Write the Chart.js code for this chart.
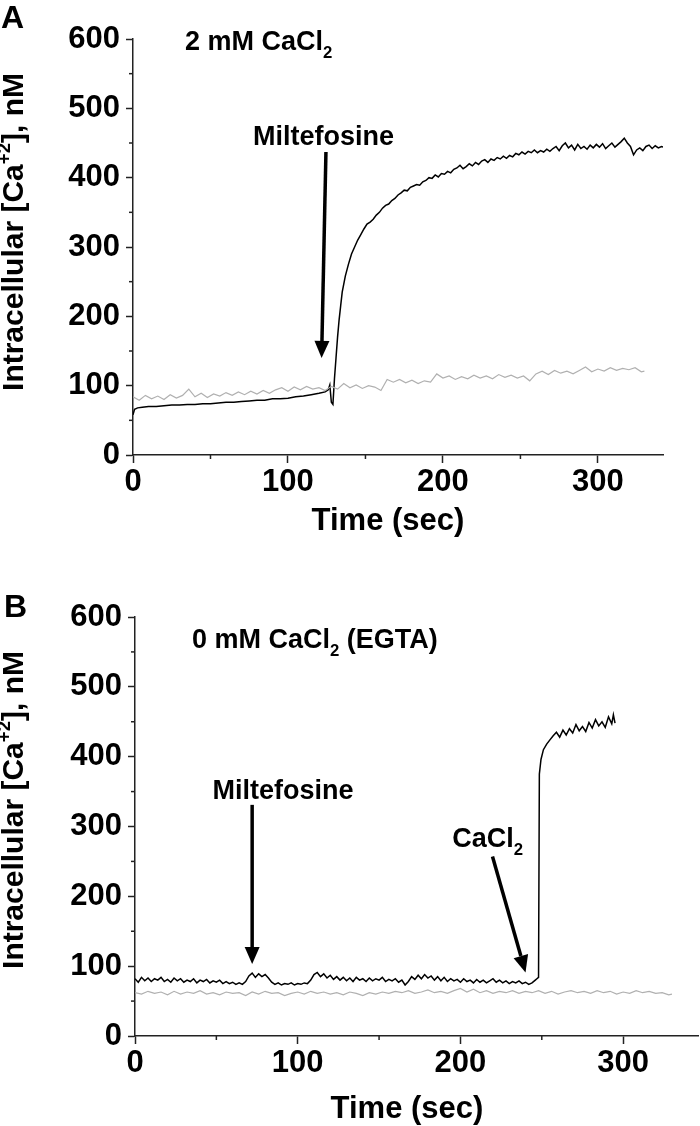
<!DOCTYPE html>
<html>
<head>
<meta charset="utf-8">
<script src="https://cdn.jsdelivr.net/npm/chart.js@4.4.0/dist/chart.umd.min.js"></script>
<style>
  body { margin: 0; background: #fff; }
  canvas { display: block; }
</style>
</head>
<body>
<canvas id="panelA" width="700" height="560"></canvas>
<canvas id="panelB" width="700" height="566"></canvas>
<script>
// ---- Panel A : 2 mM CaCl2 ----
// black trace (miltefosine added at ~127 s)
const timeA_mil = [0, 1, 3, 6, 10, 15, 20, 25, 30, 35, 40, 45, 50, 55, 60, 65, 70, 75, 80, 85, 90, 95, 100, 105, 110, 115, 120, 124, 126, 127, 128, 129,
  130, 131, 132, 133, 134, 135, 137, 139, 141, 143, 145, 147, 149, 151, 153, 155, 157, 159, 161, 163, 165, 167, 169, 171, 173, 175, 177, 179,
  181, 183, 185, 187, 189, 191, 193, 195, 197, 199, 201, 203, 205, 207, 209, 211, 213, 215, 217, 219, 221, 223, 225, 227, 229, 231, 233, 235,
  237, 239, 241, 243, 245, 247, 249, 251, 253, 255, 257, 259, 261, 263, 265, 267, 269, 271, 273, 275, 277, 279, 281, 283, 285, 287, 289, 291,
  293, 295, 297, 299, 301, 303, 305, 307, 309, 311, 313, 315, 317, 319, 321, 323, 325, 327, 329, 331, 333, 335, 337, 339, 341, 342];
const caA_mil = [58, 66, 68, 69, 70, 70, 71, 72, 72, 73, 73, 74, 74, 75, 76, 76, 77, 78, 79, 79, 81, 81, 82, 84, 85, 87, 89, 91, 94, 101, 76, 73,
  110, 140, 170, 195, 215, 235, 258, 275, 290, 300, 310, 318, 326, 333, 336, 340, 346, 350, 356, 360, 362, 367, 370, 375, 378, 382, 381, 386,
  388, 390, 389, 394, 396, 400, 399, 404, 401, 406, 405, 409, 407, 412, 414, 418, 413, 416, 420, 417, 422, 419, 424, 426, 422, 427, 425, 429,
  427, 431, 428, 432, 430, 435, 433, 437, 434, 438, 436, 440, 436, 439, 437, 441, 438, 442, 445, 439, 446, 450, 443, 447, 440, 448, 442, 445,
  441, 447, 443, 448, 444, 449, 442, 446, 450, 444, 448, 452, 457, 450, 445, 433, 440, 443, 439, 445, 447, 442, 446, 443, 445, 444];
// grey trace (control)
const timeA_ctl = [0, 4, 8, 12, 16, 20, 24, 28, 32, 36, 40, 44, 48, 52, 56, 60, 64, 68, 72, 76, 80, 84, 88, 92, 96, 100, 104, 108, 112, 116,
  120, 124, 128, 132, 136, 140, 144, 148, 152, 156, 160, 164, 168, 172, 176, 180, 184, 188, 192, 196, 200, 204, 208, 212, 216, 220, 224, 228,
  232, 236, 240, 244, 248, 252, 256, 260, 264, 268, 272, 276, 280, 284, 288, 292, 296, 300, 304, 308, 312, 316, 320, 324, 328, 330];
const caA_ctl = [84, 79, 86, 81, 85, 80, 87, 82, 86, 95, 84, 89, 83, 88, 85, 90, 86, 91, 87, 92, 88, 93, 89, 94, 97, 92, 98, 94, 99, 95,
  97, 93, 99, 95, 103, 97, 101, 96, 100, 98, 93, 109, 105, 109, 104, 108, 103, 107, 105, 117, 111, 114, 109, 113, 110, 115, 111, 114,
  110, 116, 112, 115, 111, 114, 107, 117, 121, 116, 122, 118, 121, 117, 122, 127, 120, 124, 121, 126, 122, 125, 123, 126, 120, 121];

// ---- Panel B : 0 mM CaCl2 (EGTA) ----
const timeB_mil = [0, 2, 4, 6, 8, 10, 12, 14, 16, 18, 20, 22, 24, 26, 28, 30, 32, 34, 36, 38, 40, 42, 44, 46, 48, 50, 52, 54, 56, 58, 60, 62,
  64, 66, 68, 70, 72, 74, 76, 78, 80, 82, 84, 86, 88, 90, 92, 94, 96, 98, 100, 102, 104, 106, 108, 110, 112, 114, 116, 118, 120, 122, 124,
  126, 128, 130, 132, 134, 136, 138, 140, 142, 144, 146, 148, 150, 152, 154, 156, 158, 160, 162, 164, 166, 168, 170, 172, 174, 176, 178, 180,
  182, 184, 186, 188, 190, 192, 194, 196, 198, 200, 202, 204, 206, 208, 210, 212, 214, 216, 218, 220, 222, 224, 226, 228, 230, 232, 234, 236,
  238, 240, 242, 244, 246, 247, 248, 248.5, 249.5, 251, 253, 255, 257, 259, 261, 263, 265, 267, 269, 271, 273, 275, 277, 279, 281, 283, 285,
  287, 289, 291, 293, 294, 295];
const caB_mil = [82, 77, 84, 79, 83, 78, 82, 80, 84, 78, 81, 77, 83, 79, 82, 77, 80, 78, 82, 76, 80, 78, 81, 76, 79, 77, 80, 75, 78, 75, 77, 74,
  76, 74, 78, 86, 90, 84, 89, 85, 88, 83, 77, 74, 76, 73, 75, 74, 76, 73, 75, 74, 76, 75, 80, 88, 91, 85, 89, 83, 87, 81, 85,
  80, 84, 79, 83, 78, 84, 80, 82, 78, 83, 79, 82, 80, 84, 78, 81, 79, 82, 77, 80, 73, 78, 85, 81, 87, 82, 88, 83,
  86, 80, 85, 79, 84, 78, 82, 79, 81, 77, 82, 78, 80, 76, 81, 77, 80, 76, 79, 82, 77, 80, 76, 79, 75, 78, 76, 79,
  75, 77, 74, 76, 80, 82, 84, 375, 396, 410, 418, 424, 430, 435, 428, 438, 431, 440, 434, 446, 437, 443, 436, 449, 441, 453, 444,
  450, 442, 457, 447, 460, 448];
const timeB_ctl = [0, 4, 8, 12, 16, 20, 24, 28, 32, 36, 40, 44, 48, 52, 56, 60, 64, 68, 72, 76, 80, 84, 88, 92, 96, 100, 104, 108, 112, 116,
  120, 124, 128, 132, 136, 140, 144, 148, 152, 156, 160, 164, 168, 172, 176, 180, 184, 188, 192, 196, 200, 204, 208, 212, 216, 220, 224, 228,
  232, 236, 240, 244, 248, 252, 256, 260, 264, 268, 272, 276, 280, 284, 288, 292, 296, 300, 304, 308, 312, 316, 320, 324, 328, 330];
const caB_ctl = [62, 60, 64, 61, 63, 59, 64, 60, 63, 61, 65, 60, 62, 59, 63, 61, 62, 58, 63, 60, 64, 61, 62, 58, 61, 63, 60, 64, 61, 63,
  60, 62, 59, 63, 61, 58, 62, 60, 63, 61, 64, 62, 65, 61, 63, 66, 62, 64, 61, 65, 68, 63, 67, 62, 65, 61, 64, 62,
  65, 61, 64, 62, 65, 61, 64, 60, 63, 65, 62, 64, 61, 65, 62, 64, 60, 63, 61, 65, 62, 64, 61, 62, 59, 60];

const yTicks = [0, 100, 200, 300, 400, 500, 600];
const xTicks = [0, 100, 200, 300];

const FONT = "'Liberation Sans', Arial, sans-serif";
const pts = (t, v) => t.map((x, i) => ({ x: x, y: v[i] }));

// draw text pieces with sub / superscripts, returns total width
function richText(ctx, x, y, parts, size, measureOnly) {
  let w = 0;
  parts.forEach(p => {
    const s = p.sub || p.sup ? size * 0.62 : size;
    ctx.font = "bold " + s + "px " + FONT;
    const dy = p.sub ? size * 0.3 : p.sup ? -size * 0.42 : 0;
    if (!measureOnly) ctx.fillText(p.t, x + w, y + dy);
    w += ctx.measureText(p.t).width;
  });
  return w;
}

function arrow(ctx, x1, y1, x2, y2) {
  const a = Math.atan2(y2 - y1, x2 - x1), L = 17, W = 7.5;
  const bx = x2 - L * Math.cos(a), by = y2 - L * Math.sin(a);
  ctx.lineWidth = 3.5;
  ctx.beginPath(); ctx.moveTo(x1, y1); ctx.lineTo(bx, by); ctx.stroke();
  ctx.beginPath();
  ctx.moveTo(x2, y2);
  ctx.lineTo(bx + W * Math.sin(a), by - W * Math.cos(a));
  ctx.lineTo(bx - W * Math.sin(a), by + W * Math.cos(a));
  ctx.closePath(); ctx.fill();
}

function decorPlugin(cfg) {
  return {
    id: 'decor',
    afterDraw(chart) {
      const ctx = chart.ctx, xs = chart.scales.x, ys = chart.scales.y;
      const X = v => xs.getPixelForValue(v), Y = v => ys.getPixelForValue(v);
      const area = chart.chartArea;
      ctx.save();
      ctx.strokeStyle = '#222'; ctx.fillStyle = '#000'; ctx.lineWidth = 1.5;
      // minor ticks
      for (let v = 50; v < xs.max; v += 100) {
        ctx.beginPath(); ctx.moveTo(X(v), area.bottom); ctx.lineTo(X(v), area.bottom + 4); ctx.stroke();
      }
      for (let v = 50; v < ys.max; v += 100) {
        ctx.beginPath(); ctx.moveTo(area.left - 4, Y(v)); ctx.lineTo(area.left, Y(v)); ctx.stroke();
      }
      ctx.textAlign = 'left'; ctx.textBaseline = 'alphabetic';
      // y axis title
      const title = [{ t: 'Intracellular [Ca' }, { t: '+2', sup: true }, { t: '], nM' }];
      const tw = richText(ctx, 0, 0, title, 30, true);
      ctx.save();
      ctx.translate(23, cfg.titleCenter);
      ctx.rotate(-Math.PI / 2);
      richText(ctx, -tw / 2, 0, title, 30);
      ctx.restore();
      // x axis title
      ctx.font = "bold 31px " + FONT;
      ctx.textAlign = 'center'; ctx.textBaseline = 'middle';
      ctx.fillText('Time (sec)', cfg.xTitleX, cfg.xTitleY);
      ctx.textAlign = 'left'; ctx.textBaseline = 'alphabetic';
      // panel letter
      ctx.font = "bold 32px " + FONT;
      ctx.fillText(cfg.letter, cfg.letterX, cfg.letterY);
      // labels
      cfg.labels.forEach(l => {
        let w = richText(ctx, 0, 0, l.parts, l.size, true);
        const x0 = l.align === 'center' ? X(l.x) - w / 2 : X(l.x);
        richText(ctx, x0, Y(l.y), l.parts, l.size);
      });
      ctx.strokeStyle = '#000';
      cfg.arrows.forEach(a => arrow(ctx, X(a[0]), Y(a[1]), X(a[2]), Y(a[3])));
      ctx.restore();
    }
  };
}

function makeChart(id, o) {
  return new Chart(document.getElementById(id), {
    type: 'line',
    data: {
      datasets: [
        { data: pts(o.tCtl, o.vCtl), borderColor: '#b0b0b0', borderWidth: 1.2 },
        { data: pts(o.tMil, o.vMil), borderColor: '#000', borderWidth: 1.5 }
      ]
    },
    options: {
      responsive: false,
      animation: false,
      elements: { point: { radius: 0 }, line: { tension: 0 } },
      layout: { padding: { left: o.left - 103, right: 700 - o.right, top: o.top, bottom: 0 } },
      plugins: { legend: { display: false }, tooltip: { enabled: false } },
      scales: {
        x: {
          type: 'linear', min: 0, max: o.xMax,
          afterFit: s => { s.height = o.xHeight; },
          afterBuildTicks: s => { s.ticks = xTicks.map(v => ({ value: v })); },
          ticks: { color: '#000', font: { family: FONT, size: 31, weight: 'bold' }, padding: 1, maxRotation: 0 },
          grid: { drawOnChartArea: false, drawTicks: true, tickLength: 8, tickColor: '#222', tickWidth: 1.5 },
          border: { display: true, color: '#222', width: 1.5 }
        },
        y: {
          type: 'linear', min: 0, max: 600,
          afterFit: s => { s.width = 103; },
          afterBuildTicks: s => { s.ticks = yTicks.map(v => ({ value: v })); },
          ticks: { color: '#000', font: { family: FONT, size: 31, weight: 'bold' }, padding: 6 },
          grid: { drawOnChartArea: false, drawTicks: true, tickLength: 7, tickColor: '#222', tickWidth: 1.5 },
          border: { display: true, color: '#222', width: 1.5 }
        }
      }
    },
    plugins: [decorPlugin(o)]
  });
}

makeChart('panelA', {
  tCtl: timeA_ctl, vCtl: caA_ctl, tMil: timeA_mil, vMil: caA_mil,
  left: 133, right: 663, top: 39, xMax: 342, xHeight: 105,
  xTitleX: 388, xTitleY: 521,
  titleCenter: 232, letter: 'A', letterX: 1, letterY: 28,
  labels: [
    { x: 33.5, y: 584, size: 27, parts: [{ t: '2 mM CaCl' }, { t: '2', sub: true }] },
    { x: 123, y: 447, size: 27, align: 'center', parts: [{ t: 'Miltefosine' }] }
  ],
  arrows: [[124.5, 437, 121.7, 140]]
});

makeChart('panelB', {
  tCtl: timeB_ctl, vCtl: caB_ctl, tMil: timeB_mil, vMil: caB_mil,
  left: 135, right: 698, top: 57, xMax: 346, xHeight: 90,
  xTitleX: 407, xTitleY: 549,
  titleCenter: 250, letter: 'B', letterX: 4, letterY: 57,
  labels: [
    { x: 35, y: 556, size: 27, parts: [{ t: '0 mM CaCl' }, { t: '2', sub: true }, { t: ' (EGTA)' }] },
    { x: 91, y: 339, size: 27, align: 'center', parts: [{ t: 'Miltefosine' }] },
    { x: 195, y: 271, size: 27, parts: [{ t: 'CaCl' }, { t: '2', sub: true }] }
  ],
  arrows: [[72, 331, 72, 103], [219.7, 257, 240, 91]]
});
</script>
</body>
</html>
